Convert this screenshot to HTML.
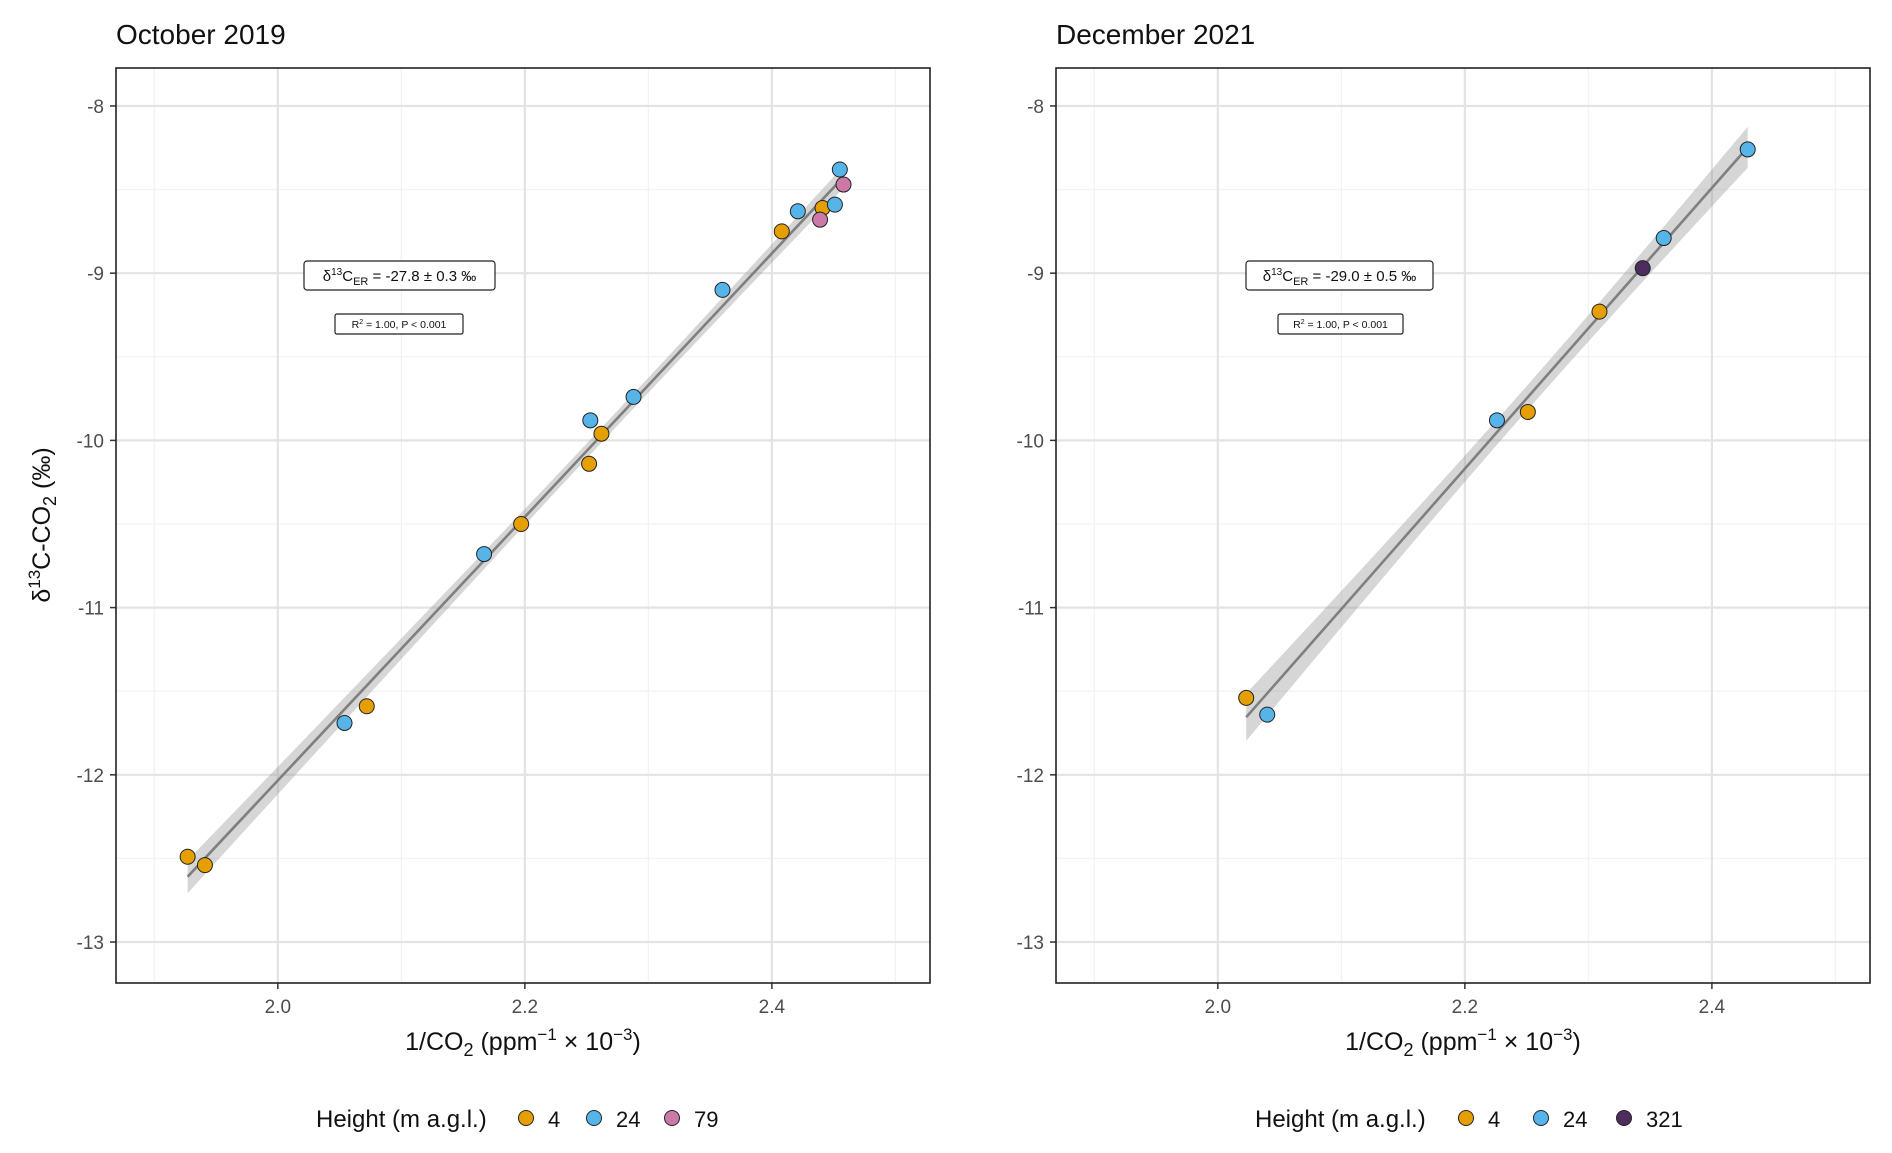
<!DOCTYPE html>
<html><head><meta charset="utf-8">
<style>
html,body{margin:0;padding:0;background:#fff;}
svg{display:block;font-family:"Liberation Sans",Arial,sans-serif;}
</style></head>
<body>
<svg id="chart" width="1892" height="1153" viewBox="0 0 1892 1153" xmlns="http://www.w3.org/2000/svg"></svg>
<script>
// ---- data: October 2019 ----
const octX4 = [1.927,1.941,2.072,2.197,2.252,2.262,2.408,2.441];
const octY4 = [-12.49,-12.54,-11.59,-10.50,-10.14,-9.96,-8.75,-8.61];
const octX24 = [2.054,2.167,2.253,2.288,2.360,2.421,2.451,2.455];
const octY24 = [-11.69,-10.68,-9.88,-9.74,-9.10,-8.63,-8.59,-8.38];
const octX79 = [2.439,2.458];
const octY79 = [-8.68,-8.47];
// ---- data: December 2021 ----
const decX4 = [2.023,2.251,2.309];
const decY4 = [-11.54,-9.83,-9.23];
const decX24 = [2.040,2.226,2.361,2.429];
const decY24 = [-11.64,-9.88,-8.79,-8.26];
const decX321 = [2.344];
const decY321 = [-8.97];
// ---- axes ----
const xTicks = [2.0,2.2,2.4];
const xTickLabels = ["2.0","2.2","2.4"];
const xMinor = [1.9,2.1,2.3,2.5];
const yTicks = [-8,-9,-10,-11,-12,-13];
const yTickLabels = ["-8","-9","-10","-11","-12","-13"];
const yMinor = [-8.5,-9.5,-10.5,-11.5,-12.5];
const xDomain = [1.869,2.528];
const yDomain = [-13.245,-7.773];

const NS="http://www.w3.org/2000/svg";
const svg=document.getElementById('chart');
function mk(tag,attrs,parent){const e=document.createElementNS(NS,tag);for(const k in attrs)e.setAttribute(k,attrs[k]);(parent||svg).appendChild(e);return e;}

const COL={o:"#E69F00",b:"#56B4E9",p:"#CC79A7",d:"#4E2D5E"};

function panel(opts){
  const L=opts.left,R=opts.right,T=68,B=983;
  const g=mk('g',{});
  
  
  const sx=v=>L+(v-xDomain[0])/(xDomain[1]-xDomain[0])*(R-L);
  const sy=v=>T+(yDomain[1]-v)/(yDomain[1]-yDomain[0])*(B-T);
  mk('rect',{x:L,y:T,width:R-L,height:B-T,fill:'#fff'},g);
  xMinor.forEach(v=>{const l=mk('line',{x1:sx(v),x2:sx(v),y1:T,y2:B,stroke:'#f2f2f2','stroke-width':1.3},g);});
  yMinor.forEach(v=>{const l=mk('line',{x1:L,x2:R,y1:sy(v),y2:sy(v),stroke:'#f2f2f2','stroke-width':1.3},g);});
  xTicks.forEach((v,i)=>{
    const l=mk('line',{x1:sx(v),x2:sx(v),y1:T,y2:B,stroke:'#e3e3e3','stroke-width':2.2},g);
    
    mk('line',{x1:sx(v),x2:sx(v),y1:B,y2:B+6,stroke:'#333','stroke-width':1.5},g);
    const t=mk('text',{x:sx(v),y:B+30,'text-anchor':'middle','font-size':19,fill:'#4d4d4d'},g);
    t.textContent=xTickLabels[i];
    
  });
  yTicks.forEach((v,i)=>{
    const l=mk('line',{x1:L,x2:R,y1:sy(v),y2:sy(v),stroke:'#e3e3e3','stroke-width':2.2},g);
    
    mk('line',{x1:L-6,x2:L,y1:sy(v),y2:sy(v),stroke:'#333','stroke-width':1.5},g);
    const t=mk('text',{x:L-12,y:sy(v)+7,'text-anchor':'end','font-size':19,fill:'#4d4d4d'},g);
    t.textContent=yTickLabels[i];
    
  });
  // regression
  const xs=[].concat(...opts.series.map(s=>s.x)), ys=[].concat(...opts.series.map(s=>s.y));
  const n=xs.length, mx=xs.reduce((a,b)=>a+b)/n, my=ys.reduce((a,b)=>a+b)/n;
  let sxx=0,sxy=0;xs.forEach((x,i)=>{sxx+=(x-mx)**2;sxy+=(x-mx)*(ys[i]-my);});
  const b=sxy/sxx,a=my-b*mx;
  let sse=0;xs.forEach((x,i)=>{sse+=(ys[i]-(a+b*x))**2;});
  const s=Math.sqrt(sse/Math.max(n-2,1)), tq=n>10?2.1:2.45;
  const x0=Math.min(...xs),x1=Math.max(...xs);
  const up=[],dn=[];
  for(let k=0;k<=40;k++){const x=x0+(x1-x0)*k/40;const f=a+b*x;const h=tq*s*Math.sqrt(1/n+(x-mx)**2/sxx);up.push(sx(x)+','+sy(f+h));dn.unshift(sx(x)+','+sy(f-h));}
  const band=mk('polygon',{points:up.concat(dn).join(' '),fill:'#999','fill-opacity':0.4},g);
  
  const ln=mk('line',{x1:sx(x0),y1:sy(a+b*x0),x2:sx(x1),y2:sy(a+b*x1),stroke:'#7f7f7f','stroke-width':2.6},g);
  
  opts.series.forEach(se=>{
    se.x.forEach((x,i)=>{
      const c=mk('circle',{cx:sx(x),cy:sy(se.y[i]),r:7.5,fill:se.c,stroke:'#222','stroke-width':1},g);
      
    });
  });
  mk('rect',{x:L,y:T,width:R-L,height:B-T,fill:'none',stroke:'#222','stroke-width':1.6},g);
  // annotation
  const ab=opts.ann;
  const r1=mk('rect',{x:ab.x,y:261,width:ab.w,height:29,rx:3,fill:'#fff',stroke:'#222','stroke-width':1.2},g);
  
  const t1=mk('text',{x:ab.x+ab.w/2,y:281,'text-anchor':'middle','font-size':15,fill:'#111'},g);
  t1.innerHTML='δ<tspan dy="-6" font-size="10">13</tspan><tspan dy="6">C</tspan><tspan dy="4" font-size="11">ER</tspan><tspan dy="-4"> = '+ab.txt+' ‰</tspan>';
  const r2=mk('rect',{x:ab.x2,y:314,width:ab.w2,height:20,rx:2,fill:'#fff',stroke:'#222','stroke-width':1.2},g);
  
  const t2=mk('text',{x:ab.x2+ab.w2/2,y:328,'text-anchor':'middle','font-size':10.5,fill:'#111'},g);
  t2.innerHTML='R<tspan dy="-4" font-size="7">2</tspan><tspan dy="4"> = 1.00, P &lt; 0.001</tspan>';
  // titles
  const tt=mk('text',{x:L,y:44,'font-size':28,fill:'#111'},g);tt.textContent=opts.title;
  
  const xt=mk('text',{x:(L+R)/2,y:1050,'text-anchor':'middle','font-size':25,fill:'#111'},g);
  xt.innerHTML='1/CO<tspan dy="6" font-size="18">2</tspan><tspan dy="-6"> (ppm</tspan><tspan dy="-10" font-size="17">−1</tspan><tspan dy="10"> × 10</tspan><tspan dy="-10" font-size="17">−3</tspan><tspan dy="10">)</tspan>';
  
  // legend
  const lg=opts.legend;
  const lt=mk('text',{x:lg.x,y:1127,'font-size':24,fill:'#111'},g);lt.textContent='Height (m a.g.l.)';
  
  lg.items.forEach(it=>{
    const c=mk('circle',{cx:it.cx,cy:1118,r:7.5,fill:it.c,stroke:'#222','stroke-width':1},g);
    
    const t=mk('text',{x:it.cx+22,y:1127,'font-size':22,fill:'#111'},g);t.textContent=it.l;
    
  });
}

panel({name:'october-2019-panel',left:116,right:930,title:'October 2019',
  series:[{name:'4',x:octX4,y:octY4,c:COL.o},{name:'24',x:octX24,y:octY24,c:COL.b},{name:'79',x:octX79,y:octY79,c:COL.p}],
  ann:{x:304,w:191,txt:'-27.8 ± 0.3',x2:335,w2:128},
  legend:{x:316,items:[{cx:526,c:COL.o,l:'4'},{cx:594,c:COL.b,l:'24'},{cx:672,c:COL.p,l:'79'}]}});
panel({name:'december-2021-panel',left:1056,right:1870,title:'December 2021',
  series:[{name:'4',x:decX4,y:decY4,c:COL.o},{name:'24',x:decX24,y:decY24,c:COL.b},{name:'321',x:decX321,y:decY321,c:COL.d}],
  ann:{x:1246,w:187,txt:'-29.0 ± 0.5',x2:1278,w2:125},
  legend:{x:1255,items:[{cx:1466,c:COL.o,l:'4'},{cx:1541,c:COL.b,l:'24'},{cx:1624,c:COL.d,l:'321'}]}});

const yt=mk('text',{x:0,y:0,'text-anchor':'middle','font-size':25,fill:'#111',transform:'translate(50,525) rotate(-90)'});
yt.innerHTML='δ<tspan dy="-10" font-size="17">13</tspan><tspan dy="10">C-CO</tspan><tspan dy="6" font-size="18">2</tspan><tspan dy="-6"> (‰)</tspan>';


</script>
</body></html>
